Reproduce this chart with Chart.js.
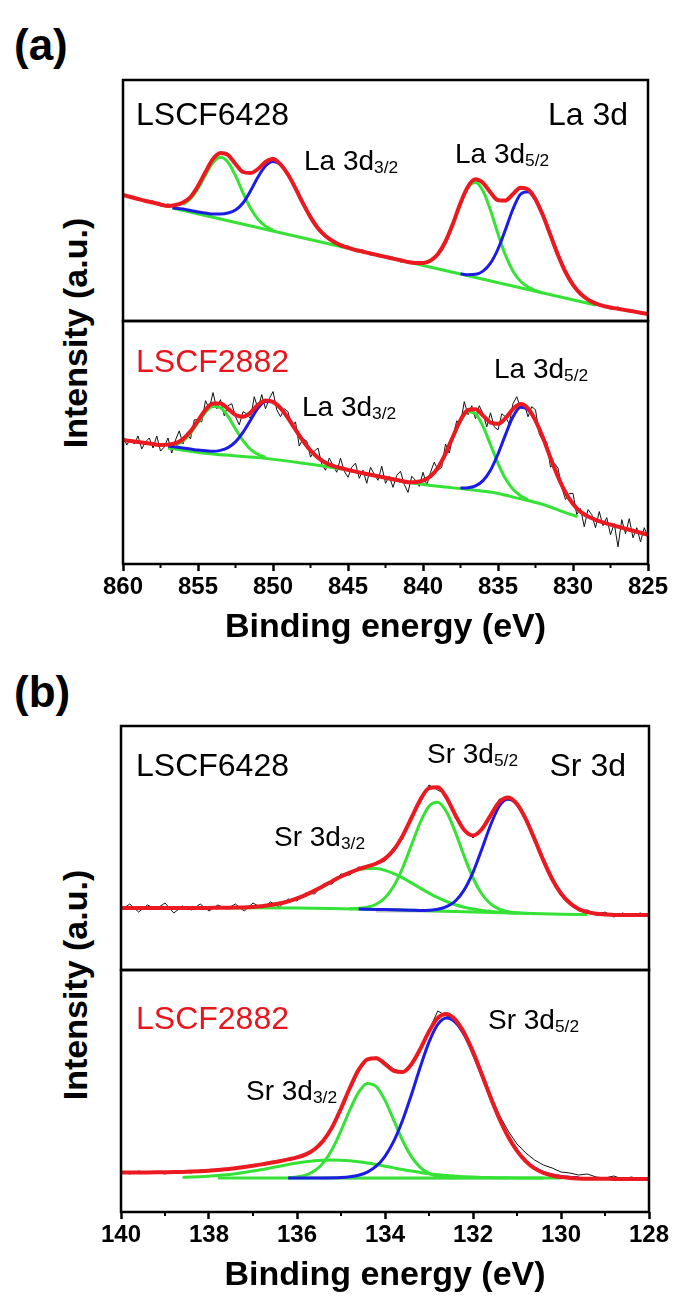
<!DOCTYPE html>
<html>
<head>
<meta charset="utf-8">
<script src="https://cdn.jsdelivr.net/npm/chart.js@4.4.1/dist/chart.umd.min.js"></script>
<style>
  body { margin: 0; background: #fff; }
  #page { position: relative; width: 675px; height: 1300px; overflow: hidden;
          font-family: "Liberation Sans", Arial, sans-serif; color: #000; }
  canvas { position: absolute; }
  .lbl { position: absolute; white-space: nowrap; line-height: 1; transform: translateY(-50%); }
  .lbl sub { font-size: 0.62em; vertical-align: -0.15em; line-height: 0; }
  .big { font-size: 32px; }
  .peak { font-size: 28px; }
  .red { color: #e8161c; }
  .panel { position: absolute; font-weight: bold; font-size: 44px; line-height: 1; transform: translateY(-50%); }
  .ylab { position: absolute; font-weight: bold; font-size: 34px; white-space: nowrap; line-height: 1;
          transform: translate(-50%, -50%) rotate(-90deg); }
</style>
</head>
<body>
<div id="page">
  <div class="panel" style="left:14px; top:45px;">(a)</div>
  <div class="panel" style="left:14px; top:692px;">(b)</div>
  <div class="ylab" style="left:75px; top:333px;">Intensity (a.u.)</div>
  <div class="ylab" style="left:75px; top:985px;">Intensity (a.u.)</div>

  <canvas id="laTop" width="605" height="261" style="left:83px; top:70px;"></canvas>
  <canvas id="laBot" width="605" height="341" style="left:83px; top:311px;"></canvas>
  <canvas id="srTop" width="608" height="264" style="left:81px; top:716px;"></canvas>
  <canvas id="srBot" width="608" height="340" style="left:81px; top:960px;"></canvas>

  <div class="lbl big" style="left:136px; top:114px;">LSCF6428</div>
  <div class="lbl big" style="right:47px; top:114px;">La 3d</div>
  <div class="lbl peak" style="left:304px; top:161px;">La 3d<sub>3/2</sub></div>
  <div class="lbl peak" style="left:455px; top:154px;">La 3d<sub>5/2</sub></div>

  <div class="lbl big red" style="left:136px; top:361px;">LSCF2882</div>
  <div class="lbl peak" style="left:302px; top:407px;">La 3d<sub>3/2</sub></div>
  <div class="lbl peak" style="left:494px; top:369px;">La 3d<sub>5/2</sub></div>

  <div class="lbl big" style="left:136px; top:765px;">LSCF6428</div>
  <div class="lbl big" style="right:49px; top:765px;">Sr 3d</div>
  <div class="lbl peak" style="left:427px; top:754px;">Sr 3d<sub>5/2</sub></div>
  <div class="lbl peak" style="left:274px; top:837px;">Sr 3d<sub>3/2</sub></div>

  <div class="lbl big red" style="left:136px; top:1018px;">LSCF2882</div>
  <div class="lbl peak" style="left:488px; top:1020px;">Sr 3d<sub>5/2</sub></div>
  <div class="lbl peak" style="left:246px; top:1091px;">Sr 3d<sub>3/2</sub></div>
</div>
<script>
// ---- La 3d, LSCF6428 (sampled 860 -> 825 eV) ----
const laTopFit = [126,124,122,120,118.5,116.5,115,116,118.5,124,135,149,162,168,166,157,149,148,152,159,162,156.6,146.5,132.7,117.6,103.9,92.7,85,79.7,75.9,73.3,71,69.3,67.5,65.8,64.1,62.4,60.7,59,58,58,60.4,67,79.5,97.4,118,134.5,141.7,138,128.5,120.8,120.6,127,133.3,131.6,121.8,105.4,85.7,66,49,36.1,27.2,21.4,17.6,15.1,13.5,12.2,10.9,9.6,8.3,7];
const laTopRaw = [127,123,123,119,120,115,117,115,119,123,137,147,163,167,168,156,150,147,153,158,164,155,148,131,119,102,94,84,81,74,75,70,71,66,67,63,64,59,60,57,59,59,68,78,99,117,136,140,139,127,122,119,128,132,133,120,107,84,67,48,37,26,23,16,16,12,14,10,11,7,9];
const laTopBase = [[856.7,113],[828.5,16]];
const laTopG1 = [[856,116.5],[855.5,122.3],[855,132.6],[854.5,146.1],[854,158.4],[853.5,163.8],[853,158.8],[852.5,145.3],[852,128.2],[851.5,112.8],[851,101.8],[850.5,94.9],[850,91]];
const laTopB2 = [[856.7,113],[856.5,112.8],[856,112],[855.5,110.5],[855,109],[854.5,108],[854,107],[853.5,107],[853,108],[852.5,111],[852,118],[851.5,130],[851,144],[850.5,155],[850,159.5],[849.5,156.6],[849,146.5],[848.5,132.7],[848,117.6],[847.5,103.9],[847,92.7],[846.5,85],[846,79.7],[845.5,75.9],[845,73.3]];
const laTopG3 = [[840,58],[839.5,60.4],[839,67],[838.5,79.5],[838,97.4],[837.5,117.6],[837,133.4],[836.5,138.5],[836,130],[835.5,110.7],[835,87.1],[834.5,65.7],[834,49.8],[833.5,39.8],[833,33.9],[832.5,30.5],[832,28]];
const laTopB4 = [[837.5,47.2],[837,46.3],[836.5,46.7],[836,49.9],[835.5,57.8],[835,72],[834.5,91.5],[834,112],[833.5,126.7],[833,129.2],[832.5,121],[832,105.4],[831.5,85.7],[831,66],[830.5,49],[830,36.1],[829.5,27.2],[829,21.4],[828.5,17.6]];

// ---- La 3d, LSCF2882 ----
const laBotFit = [123,122,121,120,119,118,118.4,119.8,123.9,131.6,142.1,152.9,159.1,159.2,153.9,147.8,146.1,150.2,157.8,162.2,160.8,154.6,144.8,133.3,122.1,112.6,105.5,100.5,97.3,95.2,93.3,91.6,90,88.5,87,85.5,84,82.5,81.2,81.4,82.8,87,95.6,109.5,126.4,142.8,152.7,153.4,147.2,140.3,139,144.6,153.7,158.6,154.3,142.2,125.1,105.2,86.5,70.9,59.5,51.8,47,43.8,41.2,39,37,35,33,31,29];
const laBotRaw = [127,118,124,119,127,114,121,125,115,127,112,116,125,110,123,132,119,130,124,143,143,141,162,154,170,154,163,147,157,159,146,138,151,149,144,166,154,168,154,164,171,153,146,154,151,136,141,117,124,122,106,112,115,99,93,105,98,91,105,92,86,96,100,85,93,80,96,89,83,97,80,87,76,88,92,79,71,87,83,77,91,78,91,101,93,96,119,110,127,142,139,161,148,157,144,157,149,136,150,136,133,149,146,139,159,166,155,159,146,156,153,129,122,121,96,100,95,76,64,70,70,49,55,37,54,49,36,52,38,46,29,40,17,44,30,45,26,36,22,36,27];
const laBotBase = [[857,115],[854,109],[851,105.5],[848,100],[845.2,93.7],[843,87],[841,81],[839,77],[837,74],[835,70],[833.7,65.3],[832,59],[830.5,51],[829.7,47]];
const laBotG1 = [[856.5,117.8],[856,121.9],[855.5,129.6],[855,140.1],[854.5,150.5],[854,156.3],[853.5,154.9],[853,146.3],[852.5,133.9],[852,122.3],[851.5,113.7],[851,108.7],[850.5,105.7]];
const laBotB2 = [[857,117],[856.5,116],[856,115],[855.5,114],[855,113],[854.5,112.4],[854,111.8],[853.5,112.7],[853,115.4],[852.5,121.1],[852,130.5],[851.5,142.6],[851,154.6],[850.5,161.1],[850,160.8],[849.5,154.6],[849,144.8],[848.5,133.3],[848,122.1],[847.5,112.6],[847,105.5],[846.5,100.5],[846,97.3],[845.5,95.2]];
const laBotG3 = [[840.5,81.4],[840,82.8],[839.5,87],[839,95.6],[838.5,109.5],[838,126.4],[837.5,142.3],[837,151.1],[836.5,149],[836,136.5],[835.5,118.3],[835,99.9],[834.5,84.5],[834,74.1],[833.5,67.7],[833,63.9]];
const laBotB4 = [[837.5,75.3],[837,75.6],[836.5,77.4],[836,82.7],[835.5,93],[835,109.1],[834.5,128.3],[834,146],[833.5,155.5],[833,153.2],[832.5,142.2],[832,125.1],[831.5,105.2],[831,86.5],[830.5,70.9],[830,59.5],[829.5,51.8],[829,47]];

// ---- Sr 3d, LSCF6428 (sampled 140 -> 128 eV) ----
const srTopFit = [62,62,62,62,62,62,62,62,62,62,62.1,62.2,62.3,62.4,62.6,63.1,63.8,64.9,66.5,68.7,71.7,75.2,79.4,84,88.8,93.5,97.4,100.9,103.6,106.5,111.4,120.2,134.1,152,170,181.9,182.7,172.1,154.8,140,134.5,140.7,154.7,168.1,172.6,165.9,150.8,130.7,109.6,90.8,76.5,66.9,61,57.9,56.3,55.6,55.1,55.1,55,55,55];
const srTopRaw = [60,66,58,65,61,67,57,64,60,66,59,65,61,66,59,67,62,68,63,71,69,77,76,86,86,96,95,103,101,108,109,123,131,155,167,185,180,175,152,141,132,143,152,171,170,168,149,133,107,93,74,69,59,60,55,58,53,57,54,57,54];
const srTopBase = [[137.6,62.2],[136,62],[134,60.4],[132,58],[130,55.8],[129.4,55.4]];
const srTopG1 = [[137.4,62.2],[137.2,62.6],[137,63.1],[136.8,63.8],[136.6,64.9],[136.4,66.5],[136.2,68.7],[136,71.7],[135.8,75.2],[135.6,79.4],[135.4,84],[135.2,88.8],[135,93.5],[134.8,97.4],[134.6,100.2],[134.4,101.6],[134.2,101.4],[134,99.6],[133.8,96.4],[133.6,92.1],[133.4,87.1],[133.2,81.9],[133,76.9],[132.8,72.3],[132.6,68.5],[132.4,65.2],[132.2,62.8],[132,60.9],[131.8,59.6],[131.6,58.6],[131.4,57.9],[131.2,57.3],[131,56.9]];
const srTopG2 = [[134.8,61.3],[134.6,61.7],[134.4,62.8],[134.2,65.7],[134,72.2],[133.8,84],[133.6,102],[133.4,124.7],[133.2,147.5],[133,163.8],[132.8,167.7],[132.6,157.9],[132.4,137.6],[132.2,113.7],[132,92],[131.8,76],[131.6,66.1],[131.4,60.8],[131.2,58.3],[131,57.2],[130.8,56.6],[130.6,56.3]];
const srTopB = [[134.6,61],[134.2,60.6],[133.8,60.2],[133.4,59.8],[133.2,59.6],[133,59.8],[132.8,60.7],[132.6,63.3],[132.4,69],[132.2,80.1],[132,97.6],[131.8,120.7],[131.6,145],[131.4,164],[131.2,171],[131,165.5],[130.8,150.8],[130.6,130.7],[130.4,109.6],[130.2,90.8],[130,76.5],[129.8,66.9],[129.6,61],[129.4,57.9],[129.2,56.3],[129,55.6]];
const srTopGrey = [[134.2,58.3],[131.8,58.3]];

// ---- Sr 3d, LSCF2882 ----
const srBotFit = [39.5,39.5,39.5,39.6,39.7,39.8,39.9,40.1,40.4,40.8,41.3,41.9,42.8,43.8,44.9,46.2,47.6,49.2,50.8,52.6,54.6,57.6,62.8,71.5,84.9,103.5,124,142.1,152.7,153.8,147.9,141.1,140,147.8,162.9,180.5,194.1,198.1,192.2,179.1,160.1,137.7,114.7,93.3,75.2,61.1,50.7,43.6,39.1,36.5,34.9,34.1,33.6,33.3,33.2,33.2,33.1,33.1,33,33,33];
const srBotRaw = [40,38,41,39,40,38,41,40,39,42,41,43,42,45,44,46,48,49,51,52,55,58,63,73,86,104,125,141,152,155,150,143,140,146,161,182,201,196,193,180,160,139,117,97,81,68,59,52,47,44,40,39,37,38,35,34,36,33,35,33,34];
const srBotBase = [[137.8,34],[130,34]];
const srBotGb = [[138.6,34.6],[138.4,34.9],[138.2,35.3],[138,35.8],[137.8,36.4],[137.6,37.3],[137.4,38.3],[137.2,39.5],[137,40.9],[136.8,42.4],[136.6,44.1],[136.4,45.8],[136.2,47.4],[136,48.9],[135.8,50.2],[135.6,51.2],[135.4,51.8],[135.2,52],[135,51.8],[134.8,51.2],[134.6,50.2],[134.4,48.9],[134.2,47.4],[134,45.8],[133.8,44.1],[133.6,42.4],[133.4,40.9],[133.2,39.5],[133,38.3],[132.8,37.3],[132.6,36.4],[132.4,35.8],[132.2,35.3],[132,34.9],[131.8,34.6],[131.6,34.4],[131.4,34.3],[131,34.1],[130.4,34]];
const srBotGa = [[136.2,34.3],[136,35.1],[135.8,36.9],[135.6,41.2],[135.4,49.4],[135.2,62.8],[135,81.3],[134.8,102],[134.6,119.7],[134.4,128.6],[134.2,125.5],[134,111.6],[133.8,91.6],[133.6,71.5],[133.4,55.4],[133.2,44.7],[133,38.7],[132.8,35.8],[132.6,34.6],[132.4,34.2]];
const srBotB = [[136.2,34],[135.4,34.1],[135,34.5],[134.8,35.2],[134.6,36.7],[134.4,39.9],[134.2,45.8],[134,55.7],[133.8,70.8],[133.6,91.7],[133.4,117.3],[133.2,144.8],[133,169.9],[132.8,187.6],[132.6,194],[132.4,189.6],[132.2,177.2],[132,158.7],[131.8,136.8],[131.6,114.1],[131.4,93],[131.2,75.2],[131,61.2],[130.8,51],[130.6,44],[130.4,39.6],[130.2,37],[130,35.5],[129.8,34.7],[129.6,34.3]];
const srBotGrey = [[135.4,33.3],[131.2,33.3]];

// axis ranges and ticks
const laRange = [825, 860], laStep = 5, laMinor = [857.5, 852.5, 847.5, 842.5, 837.5, 832.5, 827.5];
const srRange = [128, 140], srStep = 2, srMinor = [139, 137, 135, 133, 131, 129];

const RED = '#ea1a20', GREEN = '#36e236', BLUE = '#1c1ce4', GREY = '#c4c4c4', BLACK = '#111';
const FONT = '"Liberation Sans", Arial, sans-serif';

const pts = pairs => pairs.map(([x, y]) => ({x, y}));
const sampled = (start, step, values) => values.map((y, i) => ({x: +(start - i * step).toFixed(2), y}));

function curve(data, color, width) {
  return {data, borderColor: color, borderWidth: width, pointRadius: 0, fill: false,
          cubicInterpolationMode: 'monotone'};
}

function raw(data) {
  return {data, borderColor: BLACK, borderWidth: 1, pointRadius: 0, tension: 0};
}

// box around the plot area plus the short minor ticks under the bottom axis
const framePlugin = {
  id: 'frame',
  afterDatasetsDraw(chart, args, opts) {
    const {ctx, chartArea: a} = chart;
    ctx.save();
    ctx.strokeStyle = '#000';
    ctx.lineWidth = 2.5;
    ctx.strokeRect(a.left, a.top, a.right - a.left, a.bottom - a.top);
    if (opts.minor) {
      const x = chart.scales.x;
      ctx.lineWidth = 2;
      opts.minor.forEach(v => {
        const px = x.getPixelForValue(v);
        ctx.beginPath();
        ctx.moveTo(px, a.bottom);
        ctx.lineTo(px, a.bottom + 4);
        ctx.stroke();
      });
    }
    ctx.restore();
  }
};

function makeChart(id, datasets, range, step, height, bottom, minor) {
  const xScale = {
    type: 'linear', min: range[0], max: range[1], reverse: true, display: bottom,
    border: {display: false},
    grid: {display: true, drawOnChartArea: false, drawTicks: true, tickLength: 7,
           tickWidth: 2.5, tickColor: '#000', color: '#000'},
    ticks: {stepSize: step, color: '#000', padding: 2, maxRotation: 0, autoSkip: false,
            font: {family: FONT, size: 24, weight: 'bold'}},
    title: {display: true, text: 'Binding energy (eV)', color: '#000', padding: 0,
            font: {family: FONT, size: 34, weight: 'bold'}}
  };
  if (bottom) xScale.afterFit = scale => { scale.height = 84; };
  return new Chart(document.getElementById(id), {
    type: 'line',
    data: {datasets},
    options: {
      responsive: false,
      animation: false,
      layout: {padding: {left: 40, right: 40, top: 10, bottom: bottom ? 4 : 10}},
      plugins: {legend: {display: false}, tooltip: {enabled: false}, frame: {minor: bottom ? minor : null}},
      scales: {
        x: xScale,
        y: {display: false, min: 0, max: height}
      }
    },
    plugins: [framePlugin]
  });
}

// red envelope first so it is painted on top; raw counts last, underneath everything
makeChart('laTop', [
  curve(sampled(860, 0.5, laTopFit), RED, 4),
  curve(pts(laTopB2), BLUE, 3), curve(pts(laTopB4), BLUE, 3),
  curve(pts(laTopG1), GREEN, 3), curve(pts(laTopG3), GREEN, 3),
  curve(pts(laTopBase), GREEN, 3),
  raw(sampled(860, 0.5, laTopRaw))
], laRange, laStep, 241, false);

makeChart('laBot', [
  curve(sampled(860, 0.5, laBotFit), RED, 4),
  curve(pts(laBotB2), BLUE, 3), curve(pts(laBotB4), BLUE, 3),
  curve(pts(laBotG1), GREEN, 3), curve(pts(laBotG3), GREEN, 3),
  curve(pts(laBotBase), GREEN, 3),
  raw(sampled(860, 0.25, laBotRaw))
], laRange, laStep, 241, true, laMinor);

makeChart('srTop', [
  curve(sampled(140, 0.2, srTopFit), RED, 4),
  curve(pts(srTopB), BLUE, 3),
  curve(pts(srTopG1), GREEN, 3), curve(pts(srTopG2), GREEN, 3),
  curve(pts(srTopBase), GREEN, 3),
  {data: pts(srTopGrey), borderColor: GREY, borderWidth: 1.5, pointRadius: 0},
  raw(sampled(140, 0.2, srTopRaw))
], srRange, srStep, 244, false);

makeChart('srBot', [
  curve(sampled(140, 0.2, srBotFit), RED, 4),
  curve(pts(srBotB), BLUE, 3),
  curve(pts(srBotGa), GREEN, 3), curve(pts(srBotGb), GREEN, 3),
  curve(pts(srBotBase), GREEN, 3),
  {data: pts(srBotGrey), borderColor: GREY, borderWidth: 1.5, pointRadius: 0},
  raw(sampled(140, 0.2, srBotRaw))
], srRange, srStep, 242, true, srMinor);
</script>
</body>
</html>
